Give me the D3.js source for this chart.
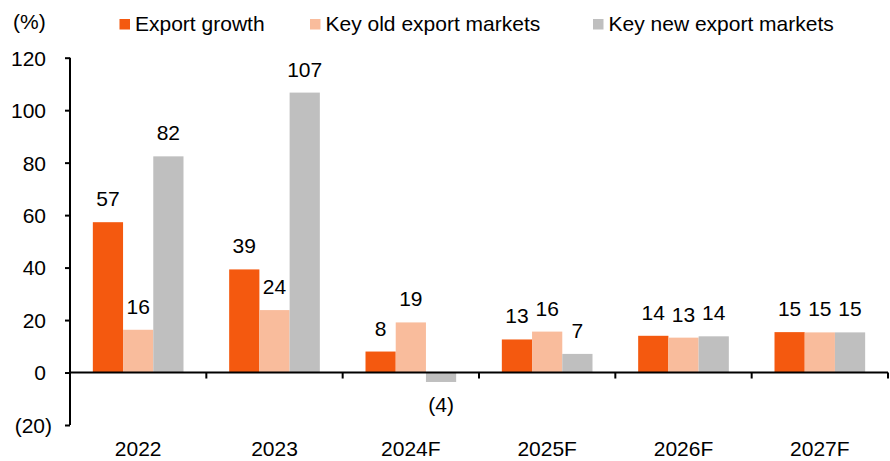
<!DOCTYPE html>
<html>
<head>
<meta charset="utf-8">
<script src="https://cdn.jsdelivr.net/npm/d3@7"></script>
<style>
  body { margin: 0; background: #fff; }
  svg text { font-family: "Liberation Sans", Arial, sans-serif; font-size: 21px; fill: #000; }
</style>
</head>
<body>
<svg id="chart" width="890" height="461"></svg>
<script>
// chart data
var categories = ["2022", "2023", "2024F", "2025F", "2026F", "2027F"];
var seriesNames = ["Export growth", "Key old export markets", "Key new export markets"];
var exportGrowth = [57.3, 39.3, 8.0, 12.6, 14.0, 15.4];
var oldMarkets = [16.3, 23.8, 19.1, 15.6, 13.3, 15.3];
var newMarkets = [82.4, 106.7, -3.6, 7.1, 13.8, 15.3];
var yTicks = [-20, 0, 20, 40, 60, 80, 100, 120];
var colors = ["#F4590F", "#F9BC9C", "#BFBFBF"];

var svg = d3.select("#chart");
var plotLeft = 70, plotRight = 888, plotTop = 57.7, plotBottom = 425;

var y = d3.scaleLinear().domain([-20, 120]).range([plotBottom, plotTop]);
var x0 = d3.scaleBand().domain(categories).range([plotLeft, plotRight])
    .paddingInner(0.335).paddingOuter(0.1675);
var x1 = d3.scaleBand().domain(seriesNames).range([0, x0.bandwidth()]);

var rows = categories.map(function (c, i) {
    return {
        cat: c,
        vals: [exportGrowth[i], oldMarkets[i], newMarkets[i]].map(function (v, j) {
            return { name: seriesNames[j], value: v, color: colors[j] };
        })
    };
});

function fmt(v) {
    var r = Math.round(Math.abs(v));
    return v < 0 ? "(" + r + ")" : "" + r;
}

// bars
var groups = svg.selectAll(".grp").data(rows).enter().append("g")
    .attr("class", "grp")
    .attr("transform", function (d) { return "translate(" + x0(d.cat) + ",0)"; });

groups.selectAll("rect").data(function (d) { return d.vals; }).enter().append("rect")
    .attr("x", function (d) { return x1(d.name); })
    .attr("y", function (d) { return y(Math.max(0, d.value)); })
    .attr("width", x1.bandwidth())
    .attr("height", function (d) { return Math.abs(y(d.value) - y(0)); })
    .attr("fill", function (d) { return d.color; });

groups.selectAll("text").data(function (d) { return d.vals; }).enter().append("text")
    .attr("x", function (d) { return x1(d.name) + x1.bandwidth() / 2; })
    .attr("y", function (d) { return d.value >= 0 ? y(d.value) - 16 : y(d.value) + 30; })
    .attr("text-anchor", "middle")
    .text(function (d) { return fmt(d.value); });

// y axis
var yAxis = d3.axisLeft(y).tickValues(yTicks).tickSize(5).tickPadding(13)
    .tickFormat(fmt);
var gy = svg.append("g").attr("transform", "translate(" + plotLeft + ",0)").call(yAxis);
gy.select(".domain").attr("stroke", "#000").attr("stroke-width", 2)
    .attr("d", "M0," + plotTop + "V" + plotBottom);
gy.selectAll(".tick line").attr("stroke", "#000").attr("stroke-width", 2);
gy.selectAll(".tick text")
    .attr("font-size", null).attr("font-family", null)
    .attr("x", function (d) { return d < 0 ? -18 : -24; })
    .attr("dy", "0.35em");

// x axis at zero
var gx = svg.append("g").attr("transform", "translate(0," + y(0) + ")");
gx.append("line").attr("x1", plotLeft).attr("x2", plotRight)
    .attr("stroke", "#000").attr("stroke-width", 2);
var bounds = categories.map(function (c) { return x0(c) - x0.step() * 0.1675; });
bounds.push(plotRight);
gx.selectAll(".bt").data(bounds).enter().append("line")
    .attr("x1", function (d) { return d; }).attr("x2", function (d) { return d; })
    .attr("y1", 0).attr("y2", 6)
    .attr("stroke", "#000").attr("stroke-width", 2);

svg.selectAll(".xl").data(categories).enter().append("text")
    .attr("x", function (d) { return x0(d) + x0.bandwidth() / 2; })
    .attr("y", 456)
    .attr("text-anchor", "middle")
    .text(function (d) { return d; });

// unit label
svg.append("text").attr("x", 13).attr("y", 29).text("(%)");

// legend
var legendX = [119.5, 310, 593];
var lg = svg.selectAll(".lg").data(seriesNames).enter().append("g")
    .attr("transform", function (d, i) { return "translate(" + legendX[i] + ",0)"; });
lg.append("rect").attr("x", 0).attr("y", 19).attr("width", 10.5).attr("height", 10.5)
    .attr("fill", function (d, i) { return colors[i]; });
lg.append("text").attr("x", 15.5).attr("y", 31).text(function (d) { return d; });
</script>
</body>
</html>
